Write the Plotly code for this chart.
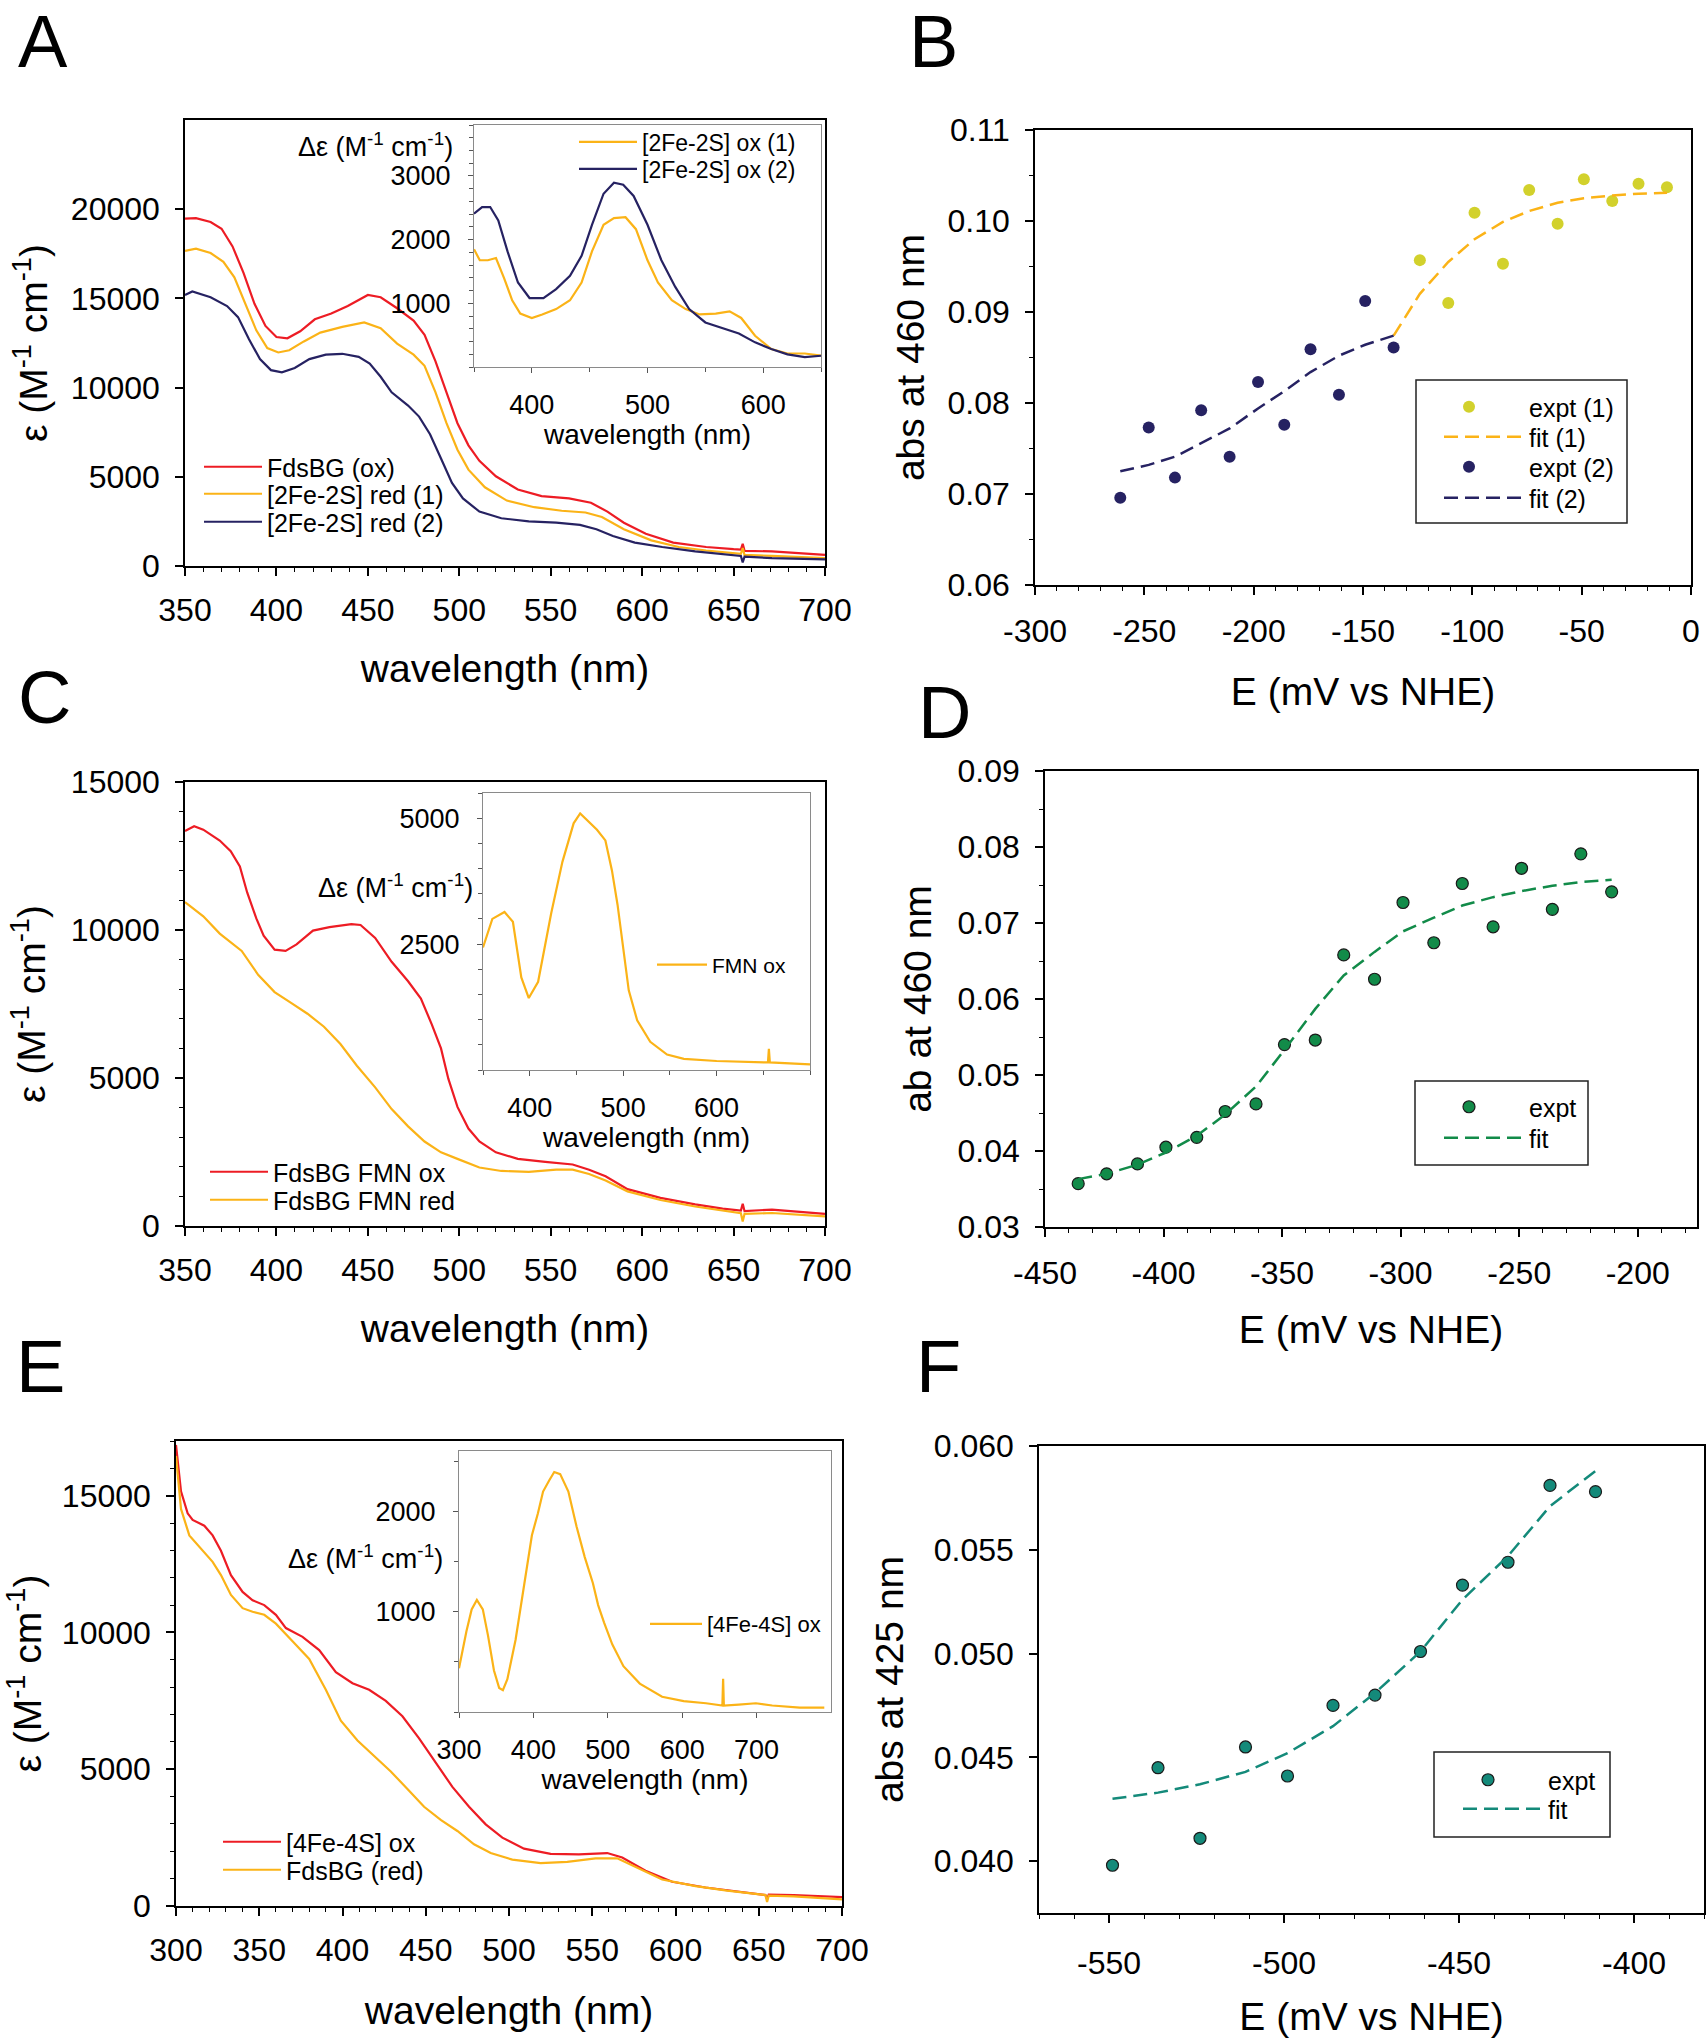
import plotly.graph_objects as go

W, H = 1707, 2038

# ---------------- Panel A data ----------------
A_wl_ox = [350,356,364,370,376,382,388,394,400,406,413,421,430,439,450,457,466,475,481,487,493,499,505,511,520,532,545,560,572,581,590,602,617,635,650,654,655,656,671,700]
A_ox = [19477,19502,19279,18907,17916,16429,14695,13456,12836,12762,13158,13827,14150,14571,15190,15066,14447,13753,12960,11473,9738,8004,6765,5898,5030,4287,3915,3791,3543,3048,2428,1809,1313,1066,942,920,1250,850,818,620]
A_wl_red1 = [350,356,364,371,377,383,389,395,401,407,415,424,436,448,457,466,475,481,487,493,499,505,514,526,541,556,569,578,590,605,620,635,650,654,655,656,671,700]
A_red1 = [17668,17792,17544,17049,16181,14695,13208,12216,11969,12093,12588,13084,13406,13654,13332,12464,11845,11225,9738,8004,6517,5402,4411,3667,3296,3098,2998,2751,2057,1437,1066,867,694,680,1000,620,570,446]
A_wl_red2 = [350,354,364,373,379,385,391,397,403,410,418,427,436,445,451,457,463,472,478,484,490,496,502,511,523,538,553,566,575,584,596,611,629,647,654,655,656,671,700]
A_red2 = [15190,15388,15066,14571,13951,12712,11597,10978,10854,11101,11597,11845,11895,11721,11349,10606,9738,8995,8376,7384,6022,4659,3791,3048,2676,2503,2428,2305,2057,1685,1313,1066,818,620,560,200,520,446,372]
Ai_wl_ox1 = [350,355,362,369,376,383,390,400,409,421,433,443,452,462,471,481,490,500,509,521,533,545,559,571,581,593,607,621,636,650]
Ai_ox1 = [1850,1676,1676,1711,1397,1048,839,770,825,909,1048,1327,1815,2233,2338,2352,2164,1676,1327,1048,909,825,839,874,770,491,282,212,212,177]
Ai_wl_ox2 = [350,357,364,371,379,388,398,410,421,433,443,452,462,471,479,488,500,512,524,536,550,564,579,593,607,621,636,650]
Ai_ox2 = [2408,2512,2512,2303,1815,1327,1083,1083,1223,1432,1745,2233,2721,2895,2861,2686,2233,1676,1257,909,700,616,526,387,282,198,156,177]

# ---------------- Panel B data ----------------
B_E1 = [-124,-111,-99,-86,-74,-61,-49,-36,-24,-11]
B_abs1 = [0.0957,0.0910,0.1009,0.0953,0.1034,0.0997,0.1046,0.1022,0.1041,0.1037]
B_fitE1 = [-136,-124,-111,-99,-86,-74,-61,-49,-36,-24,-11]
B_fit1 = [0.0874,0.0920,0.0955,0.0980,0.0999,0.1011,0.1020,0.1025,0.1028,0.1030,0.1031]
B_E2 = [-261,-248,-236,-224,-211,-198,-186,-174,-161,-149,-136]
B_abs2 = [0.0696,0.0773,0.0718,0.0792,0.0741,0.0823,0.0776,0.0859,0.0809,0.0912,0.0861]
B_fit2 = [0.0725,0.0732,0.0741,0.0756,0.0772,0.0794,0.0813,0.0834,0.0852,0.0864,0.0874]

# ---------------- Panel C data ----------------
C_wl_ox = [350,355,360,369,375,380,384,389,393,399,405,411,420,429,441,446,454,463,472,479,485,490,494,499,505,511,520,532,547,562,571,580,592,610,629,644,654,655,656,671,700]
C_ox = [13346,13507,13390,13024,12659,12146,11268,10390,9805,9337,9293,9512,9980,10098,10200,10170,9732,8927,8268,7683,6805,6000,4976,4024,3293,2854,2488,2268,2166,2078,1902,1683,1244,951,732,585,520,750,500,556,410]
C_wl_red = [350,360,369,381,390,399,408,417,426,435,444,454,463,472,481,490,499,511,523,538,553,562,571,580,592,610,629,644,654,655,656,671,700]
C_red = [10946,10463,9878,9293,8488,7902,7537,7171,6732,6146,5415,4683,3951,3366,2854,2488,2268,1976,1859,1829,1902,1902,1756,1537,1171,878,659,512,430,150,410,439,322]
Ci_wl = [350,360,373,382,391,399,409,423,435,447,454,462,472,481,488,494,500,506,515,529,547,565,600,650,655,656,657,700]
Ci_fmn = [2432,3000,3138,2942,1837,1429,1752,3112,4133,4898,5094,4950,4770,4558,3963,3282,2432,1582,987,561,306,221,179,153,150,420,150,111]

# ---------------- Panel D data ----------------
D_E = [-436,-424,-411,-399,-386,-374,-361,-349,-336,-324,-311,-299,-286,-274,-261,-249,-236,-224,-211]
D_abs = [0.0357,0.0370,0.0383,0.0405,0.0418,0.0452,0.0462,0.0540,0.0546,0.0658,0.0626,0.0727,0.0674,0.0752,0.0695,0.0772,0.0718,0.0791,0.0741]
D_fit = [0.0363,0.0370,0.0382,0.0398,0.0420,0.0448,0.0485,0.0533,0.0587,0.0631,0.0662,0.0689,0.0707,0.0723,0.0734,0.0742,0.0749,0.0754,0.0757]

# ---------------- Panel E data ----------------
E_wl_ox = [300,303,307,310,317,322,327,333,340,346,353,360,366,376,386,396,406,416,426,436,446,456,466,476,486,496,509,525,542,559,568,582,598,618,638,654,655,656,671,700]
E_ox = [16855,15162,14356,14113,13904,13549,12985,12097,11484,11178,11001,10646,10162,9839,9355,8549,8146,7904,7500,6936,6129,5242,4355,3629,2984,2500,2097,1903,1887,1936,1774,1290,887,677,516,403,250,420,403,323]
E_wl_red = [300,303,308,315,322,327,333,340,346,353,360,370,380,390,399,409,419,429,439,449,459,469,479,489,502,519,535,552,565,578,592,612,631,654,655,656,671,700]
E_red = [16453,14517,13549,13065,12581,12097,11371,10888,10759,10646,10323,9678,9033,7904,6775,6049,5484,4920,4275,3629,3145,2742,2258,1936,1694,1565,1613,1742,1742,1371,968,726,565,403,150,380,355,242]
Ei_wl = [300,310,317,324,332,339,347,354,359,365,376,387,398,406,413,421,428,436,447,458,469,480,487,495,506,521,543,573,602,632,654,655,656,676,699,721,758,791]
Ei_ox = [435,804,1022,1117,1022,761,413,239,217,326,717,1239,1761,1978,2196,2304,2391,2370,2196,1848,1543,1283,1065,891,674,456,283,152,109,87,65,330,65,74,87,65,43,43]

# ---------------- Panel F data ----------------
F_E = [-549,-536,-524,-511,-499,-486,-474,-461,-449,-436,-424,-411]
F_abs = [0.0398,0.0445,0.0411,0.0455,0.0441,0.0475,0.0480,0.0501,0.0533,0.0544,0.0581,0.0578]
F_fit = [0.0430,0.0433,0.0437,0.0443,0.0452,0.0465,0.0481,0.0501,0.0526,0.0547,0.0571,0.0588]

# ---------------- tick labels ----------------
B_ticks = [-300, -250, -200, -150, -100, -50, 0]
B_ticklabels = ['-300', '-250', '-200', '-150', '-100', '-50', '0']
D_ticks = [-450, -400, -350, -300, -250, -200]
D_ticklabels = ['-450', '-400', '-350', '-300', '-250', '-200']
F_ticks = [-550, -500, -450, -400]
F_ticklabels = ['-550', '-500', '-450', '-400']

# ---------------- styling ----------------
RED = '#ed1c24'
ORANGE = '#fbb317'
NAVY = '#262262'
YGREEN = '#d2d12c'
GREEN = '#128b49'
TEAL = '#148a7a'
FONT = 'Liberation Sans, Arial, sans-serif'
TICK = 32
ATITLE = 39
XSO = 7   # x tick label standoff
YSO = 9   # y tick label standoff


def px_x(a, b):
    return [a / W, b / W]


def px_y(top, bottom):
    return [1 - bottom / H, 1 - top / H]


def main_axis(domain, rng, anchor, title=None, standoff=15, minor=None, fmt=None, **kw):
    d = dict(domain=domain, range=rng, anchor=anchor, automargin=False, showline=True,
             linecolor='black', linewidth=1.5, mirror=True, ticks='outside', ticklen=8,
             tickwidth=1.5, tickcolor='black', showgrid=False, zeroline=False,
             tickfont=dict(family=FONT, size=TICK, color='black'))
    if title is not None:
        d['title'] = dict(text=title, standoff=standoff,
                          font=dict(family=FONT, size=ATITLE, color='black'))
    if minor is not None:
        d['minor'] = dict(dtick=minor, ticks='outside', ticklen=4, tickwidth=1.2,
                          tickcolor='black', showgrid=False)
    if fmt:
        d['tickformat'] = fmt
    d.update(kw)
    return d


def inset_axis(domain, rng, anchor, title=None, standoff=4, minor=None, **kw):
    d = dict(domain=domain, range=rng, anchor=anchor, automargin=False, showline=True,
             linecolor='#8a8a8a', linewidth=1.2, mirror=True, ticks='outside', ticklen=5,
             tickwidth=1, tickcolor='#555555', showgrid=False, zeroline=False,
             tickformat='d', tickfont=dict(family=FONT, size=27, color='black'))
    if title is not None:
        d['title'] = dict(text=title, font=dict(family=FONT, size=28, color='black'),
                          standoff=standoff)
    if minor is not None:
        d['minor'] = dict(dtick=minor, ticks='outside', ticklen=4, tickwidth=1,
                          tickcolor='#555555', showgrid=False)
    d.update(kw)
    return d


fig = go.Figure()
legends = {}
leg_count = [0]


def new_legend(text_x, y_center, size, sample):
    leg_count[0] += 1
    key = 'legend' if leg_count[0] == 1 else 'legend%d' % leg_count[0]
    legends[key] = dict(x=(text_x - sample - 9) / W, y=1 - y_center / H, xanchor='left',
                        yanchor='middle', bgcolor='rgba(0,0,0,0)', borderwidth=0,
                        itemwidth=sample,
                        font=dict(family=FONT, size=size, color='black'))
    return key


def line(x, y, xa, ya, color, name, lx, ly, size=25, sample=58, width=2.2, dash=None):
    fig.add_trace(go.Scatter(x=x, y=y, xaxis=xa, yaxis=ya, mode='lines', name=name,
                             legend=new_legend(lx, ly, size, sample),
                             line=dict(color=color, width=width, dash=dash)))


def pts(x, y, xa, ya, color, name, lx, ly, size=25, sample=110, outline=None):
    mk = dict(color=color, size=12)
    if outline:
        mk['line'] = dict(color=outline, width=1.2)
    fig.add_trace(go.Scatter(x=x, y=y, xaxis=xa, yaxis=ya, mode='markers', name=name,
                             legend=new_legend(lx, ly, size, sample), marker=mk))


DASH = '14px,7px'

# A
line(A_wl_ox, A_ox, 'x', 'y', RED, 'FdsBG (ox)', 266, 467)
line(A_wl_red1, A_red1, 'x', 'y', ORANGE, '[2Fe-2S] red (1)', 266, 494)
line(A_wl_red2, A_red2, 'x', 'y', NAVY, '[2Fe-2S] red (2)', 266, 522)
line(Ai_wl_ox1, Ai_ox1, 'x2', 'y2', ORANGE, '[2Fe-2S] ox (1)', 641, 142, size=23, sample=58)
line(Ai_wl_ox2, Ai_ox2, 'x2', 'y2', NAVY, '[2Fe-2S] ox (2)', 641, 169, size=23, sample=58)
# B
pts(B_E1, B_abs1, 'x3', 'y3', YGREEN, 'expt (1)', 1528, 407)
line(B_fitE1, B_fit1, 'x3', 'y3', ORANGE, 'fit (1)', 1528, 437, sample=80, width=2.5, dash=DASH)
pts(B_E2, B_abs2, 'x3', 'y3', NAVY, 'expt (2)', 1528, 467)
line(B_E2, B_fit2, 'x3', 'y3', NAVY, 'fit (2)', 1528, 498, sample=80, width=2.5, dash=DASH)
# C
line(C_wl_ox, C_ox, 'x4', 'y4', RED, 'FdsBG FMN ox', 272, 1172)
line(C_wl_red, C_red, 'x4', 'y4', ORANGE, 'FdsBG FMN red', 272, 1200)
line(Ci_wl, Ci_fmn, 'x5', 'y5', ORANGE, 'FMN ox', 711, 965, size=21, sample=50)
# D
pts(D_E, D_abs, 'x6', 'y6', GREEN, 'expt', 1528, 1107, outline='#1a1a1a')
line(D_E, D_fit, 'x6', 'y6', GREEN, 'fit', 1528, 1138, sample=80, width=2.5, dash=DASH)
# E
line(E_wl_ox, E_ox, 'x7', 'y7', RED, '[4Fe-4S] ox', 285, 1842)
line(E_wl_red, E_red, 'x7', 'y7', ORANGE, 'FdsBG (red)', 285, 1870)
line(Ei_wl, Ei_ox, 'x8', 'y8', ORANGE, '[4Fe-4S] ox', 706, 1624, size=22, sample=52)
# F
pts(F_E, F_abs, 'x9', 'y9', TEAL, 'expt', 1547, 1780, outline='#1a1a1a')
line(F_E, F_fit, 'x9', 'y9', TEAL, 'fit', 1547, 1809, sample=80, width=2.5, dash=DASH)

EPS = 'ε (M<sup>-1</sup> cm<sup>-1</sup>)'
DEPS = 'Δε (M<sup>-1</sup> cm<sup>-1</sup>)'

layout = dict(
    width=W, height=H, margin=dict(l=0, r=0, t=0, b=0, autoexpand=False),
    paper_bgcolor='white', plot_bgcolor='rgba(0,0,0,0)',
    font=dict(family=FONT, color='black'),
    showlegend=True,
    # A
    xaxis=main_axis(px_x(185, 825), [350, 700], 'y', 'wavelength (nm)', standoff=28, minor=10,
                    dtick=50, ticklabelstandoff=XSO),
    yaxis=main_axis(px_y(120, 566), [0, 25000], 'x', EPS, standoff=11, fmt='d',
                    tickvals=[0, 5000, 10000, 15000, 20000], ticklabelstandoff=YSO),
    xaxis2=inset_axis(px_x(474, 821), [350, 650], 'y2', 'wavelength (nm)', minor=50,
                      tickvals=[400, 500, 600], ticklabelstandoff=8),
    yaxis2=inset_axis(px_y(125, 367), [0, 3800], 'x2', None, minor=200,
                      tickvals=[1000, 2000, 3000], ticklabelstandoff=12),
    # B
    xaxis3=main_axis(px_x(1035, 1691), [-300, 0], 'y3', 'E (mV vs NHE)', standoff=30, minor=10,
                     tickvals=B_ticks, ticktext=B_ticklabels, ticklabelstandoff=XSO + 2),
    yaxis3=main_axis(px_y(130, 585), [0.06, 0.11], 'x3', 'abs at 460 nm', standoff=11,
                     minor=0.005, fmt='.2f', dtick=0.01, ticklabelstandoff=YSO),
    # C
    xaxis4=main_axis(px_x(185, 825), [350, 700], 'y4', 'wavelength (nm)', standoff=28, minor=10,
                     dtick=50, ticklabelstandoff=XSO),
    yaxis4=main_axis(px_y(782, 1226), [0, 15000], 'x4', EPS, standoff=13, minor=1000,
                     fmt='d', dtick=5000, ticklabelstandoff=YSO),
    xaxis5=inset_axis(px_x(483, 810), [350, 700], 'y5', 'wavelength (nm)', standoff=0,
                      minor=50, tickvals=[400, 500, 600], ticklabelstandoff=8),
    yaxis5=inset_axis(px_y(793, 1070), [0, 5500], 'x5', None, minor=500,
                      tickvals=[2500, 5000], ticklabelstandoff=12),
    # D
    xaxis6=main_axis(px_x(1045, 1697), [-450, -175], 'y6', 'E (mV vs NHE)', standoff=26,
                     minor=10, tickvals=D_ticks, ticktext=D_ticklabels, ticklabelstandoff=XSO + 2),
    yaxis6=main_axis(px_y(771, 1227), [0.03, 0.09], 'x6', 'ab at 460 nm', standoff=14,
                     minor=0.005, fmt='.2f', dtick=0.01, ticklabelstandoff=YSO),
    # E
    xaxis7=main_axis(px_x(176, 842), [300, 700], 'y7', 'wavelength (nm)', standoff=30, minor=10,
                     dtick=50, ticklabelstandoff=XSO),
    yaxis7=main_axis(px_y(1441, 1906), [0, 17000], 'x7', EPS, standoff=16, minor=1000,
                     fmt='d', tickvals=[0, 5000, 10000, 15000], ticklabelstandoff=YSO),
    xaxis8=inset_axis(px_x(459, 831), [300, 800], 'y8', 'wavelength (nm)',
                      tickvals=[300, 400, 500, 600, 700], ticklabelstandoff=8),
    yaxis8=inset_axis(px_y(1451, 1712), [0, 2600], 'x8', None, minor=500,
                      tickvals=[1000, 2000], ticklabelstandoff=12),
    # F
    xaxis9=main_axis(px_x(1039, 1704), [-570, -380], 'y9', 'E (mV vs NHE)', standoff=34,
                     minor=10, tickvals=F_ticks, ticktext=F_ticklabels, ticklabelstandoff=XSO + 6),
    yaxis9=main_axis(px_y(1446, 1913), [0.0375, 0.060], 'x9', 'abs at 425 nm', standoff=18,
                     fmt='.3f', tick0=0.04, dtick=0.005, ticklabelstandoff=YSO),
)
layout.update(legends)
fig.update_layout(**layout)

# legend boxes for B, D, F
for (x0, y0, x1, y1) in [(1416, 380, 1627, 523), (1415, 1081, 1588, 1165), (1434, 1752, 1610, 1837)]:
    fig.add_shape(type='rect', xref='paper', yref='paper', x0=x0 / W, x1=x1 / W,
                  y0=1 - y1 / H, y1=1 - y0 / H, line=dict(color='#222222', width=1.5))

# inset y-axis labels (Δε)
for (xr, yc) in [(455, 145), (475, 886), (445, 1557)]:
    fig.add_annotation(text=DEPS, xref='paper', yref='paper', x=xr / W, y=1 - yc / H,
                       xanchor='right', yanchor='middle', showarrow=False,
                       font=dict(family=FONT, size=27, color='black'))

# panel letters
for (lab, xc, yc) in [('A', 43, 41), ('B', 933, 41), ('C', 44, 698), ('D', 944, 713),
                      ('E', 40, 1366), ('F', 938, 1366)]:
    fig.add_annotation(text=lab, xref='paper', yref='paper', x=xc / W, y=1 - yc / H,
                       xanchor='center', yanchor='middle', showarrow=False, borderpad=0,
                       font=dict(family=FONT, size=74, color='black'))

fig.write_html('out.html', config={'displayModeBar': False},
               post_script="document.body.style.margin='0';")
